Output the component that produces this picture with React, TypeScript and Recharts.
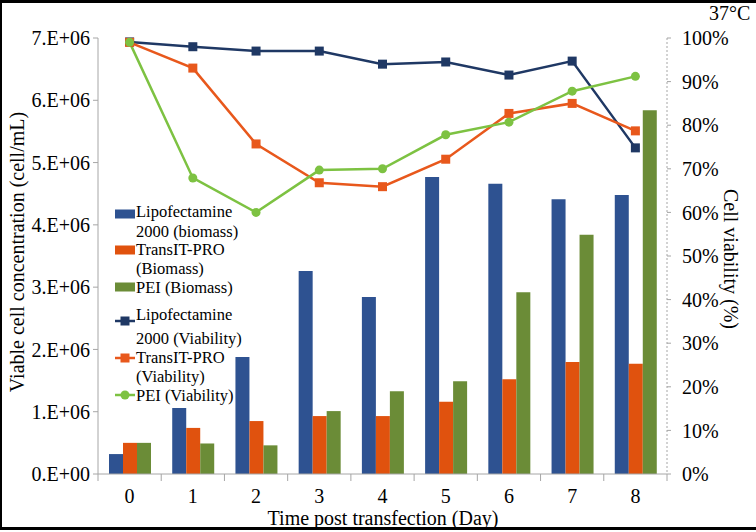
import React from "react";
import { ComposedChart, Bar, Line, XAxis, YAxis } from "recharts";

const DAYS = ["0", "1", "2", "3", "4", "5", "6", "7", "8"];

// biomass, cells/mL (left axis)
const LIPO_BIOMASS = [0.32e6, 1.06e6, 1.88e6, 3.26e6, 2.84e6, 4.77e6, 4.66e6, 4.41e6, 4.48e6];
const TRANSIT_BIOMASS = [0.5e6, 0.74e6, 0.85e6, 0.93e6, 0.93e6, 1.16e6, 1.52e6, 1.8e6, 1.77e6];
const PEI_BIOMASS = [0.5e6, 0.49e6, 0.46e6, 1.01e6, 1.33e6, 1.49e6, 2.92e6, 3.84e6, 5.84e6];

// viability, % (right axis)
const LIPO_VIABILITY = [99.1, 98.0, 97.0, 97.0, 94.0, 94.5, 91.5, 94.7, 74.8];
const TRANSIT_VIABILITY = [99.0, 93.1, 75.7, 66.8, 65.9, 72.2, 82.7, 85.0, 78.7];
const PEI_VIABILITY = [99.0, 67.9, 60.0, 69.7, 70.0, 77.8, 80.7, 87.8, 91.2];

const LEFT_TICKS = [0, 1e6, 2e6, 3e6, 4e6, 5e6, 6e6, 7e6];
const RIGHT_TICKS = [0, 10, 20, 30, 40, 50, 60, 70, 80, 90, 100];

const rows = DAYS.map((day, i) => ({
  day,
  lipoBio: LIPO_BIOMASS[i],
  transitBio: TRANSIT_BIOMASS[i],
  peiBio: PEI_BIOMASS[i],
  lipoVia: LIPO_VIABILITY[i],
  transitVia: TRANSIT_VIABILITY[i],
  peiVia: PEI_VIABILITY[i],
}));

const W = 756;
const H = 532;
const LEFT_W = 98;
const RIGHT_W = 89;
const BAND = (W - LEFT_W - RIGHT_W) / DAYS.length;

const FONT = '"Liberation Serif", "Times New Roman", serif';
const AXIS_GREY = "#a6a6a6";

const C = {
  lipoBar: "#2e5291",
  transitBar: "#e0520e",
  peiBar: "#6b8c37",
  lipoLine: "#1f3864",
  transitLine: "#e8581c",
  peiLine: "#7dc242",
};

const sciLabel = (v: number) => (v === 0 ? "0.E+00" : `${v / 1e6}.E+06`);

function DayTick(props: any) {
  const { x, y, payload, index } = props;
  const axisY = y - 8;
  const left = x - BAND / 2;
  return (
    <g>
      <line x1={left} x2={left} y1={axisY} y2={axisY + 7} stroke={AXIS_GREY} />
      {index === DAYS.length - 1 && (
        <line x1={x + BAND / 2} x2={x + BAND / 2} y1={axisY} y2={axisY + 7} stroke={AXIS_GREY} />
      )}
      <text x={x} y={y} dy={21} textAnchor="middle" fontSize={20} fontFamily={FONT} fill="#000">
        {payload.value}
      </text>
    </g>
  );
}

const squareDot = (color: string) => (p: any) => {
  if (p.cx == null || p.cy == null) return <g key={`s-${p.index}`} />;
  return <rect key={`s-${p.index}`} x={p.cx - 4.5} y={p.cy - 4.5} width={9} height={9} fill={color} />;
};

const circleDot = (color: string) => (p: any) => {
  if (p.cx == null || p.cy == null) return <g key={`c-${p.index}`} />;
  return <circle key={`c-${p.index}`} cx={p.cx} cy={p.cy} r={4.5} fill={color} />;
};

// centre of each entry's first text line, gap to its second line, centre of the swatch
const legendItems = [
  { kind: "bar", color: C.lipoBar, lines: ["Lipofectamine", "2000 (biomass)"], y: 212, gap: 20, sw: 214 },
  { kind: "bar", color: C.transitBar, lines: ["TransIT-PRO", "(Biomass)"], y: 250, gap: 19, sw: 250 },
  { kind: "bar", color: C.peiBar, lines: ["PEI (Biomass)"], y: 288, gap: 20, sw: 287 },
  { kind: "square", color: C.lipoLine, lines: ["Lipofectamine", "2000 (Viability)"], y: 315, gap: 24, sw: 321 },
  { kind: "square", color: C.transitLine, lines: ["TransIT-PRO", "(Viability)"], y: 358, gap: 19, sw: 358 },
  { kind: "circle", color: C.peiLine, lines: ["PEI (Viability)"], y: 396, gap: 20, sw: 395 },
];

function LegendBox() {
  return (
    <>
      {legendItems.map((item) => (
        <div key={item.lines.join(" ")}>
          <svg
            width={21}
            height={12}
            style={{ position: "absolute", left: 115, top: item.sw - 6, overflow: "visible" }}
          >
            {item.kind === "bar" ? (
              <rect x={0} y={1.5} width={20} height={9} fill={item.color} />
            ) : (
              <g>
                <line x1={0} x2={20} y1={6} y2={6} stroke={item.color} strokeWidth={2.5} />
                {item.kind === "square" ? (
                  <rect x={5.5} y={1.5} width={9} height={9} fill={item.color} />
                ) : (
                  <circle cx={10} cy={6} r={4.5} fill={item.color} />
                )}
              </g>
            )}
          </svg>
          {item.lines.map((ln, i) => (
            <div
              key={ln}
              style={{
                position: "absolute",
                left: 136,
                top: item.y - 8 + i * item.gap,
                lineHeight: "16px",
                fontFamily: FONT,
                fontSize: 16.5,
                color: "#000",
                whiteSpace: "nowrap",
              }}
            >
              {ln}
            </div>
          ))}
        </div>
      ))}
    </>
  );
}

export default function App() {
  return (
    <div style={{ position: "absolute", left: 0, top: 0, width: W, height: H, background: "#fff", overflow: "hidden" }}>
      <ComposedChart
        width={W}
        height={H}
        data={rows}
        margin={{ top: 38, right: 0, bottom: 0, left: 0 }}
        barGap={0}
      >
        <XAxis
          dataKey="day"
          height={58}
          tickSize={6}
          tickMargin={2}
          tickLine={false}
          axisLine={{ stroke: AXIS_GREY }}
          tick={<DayTick />}
          interval={0}
        />
        <YAxis
          yAxisId="left"
          width={LEFT_W}
          domain={[0, 7e6]}
          ticks={LEFT_TICKS}
          tickFormatter={sciLabel}
          tickSize={5}
          tickMargin={3}
          tickLine={{ stroke: AXIS_GREY }}
          axisLine={{ stroke: AXIS_GREY }}
          tick={{ fill: "#000", fontSize: 20, fontFamily: FONT }}
          interval={0}
        />
        <YAxis
          yAxisId="right"
          orientation="right"
          width={RIGHT_W}
          domain={[0, 100]}
          ticks={RIGHT_TICKS}
          tickFormatter={(v: number) => `${v}%`}
          tickSize={4}
          tickMargin={11}
          tickLine={{ stroke: AXIS_GREY }}
          axisLine={{ stroke: AXIS_GREY, strokeDasharray: "2 2" }}
          tick={{ fill: "#000", fontSize: 20, fontFamily: FONT }}
          interval={0}
        />
        <Bar yAxisId="left" dataKey="lipoBio" fill={C.lipoBar} barSize={14} isAnimationActive={false} />
        <Bar yAxisId="left" dataKey="transitBio" fill={C.transitBar} barSize={14} isAnimationActive={false} />
        <Bar yAxisId="left" dataKey="peiBio" fill={C.peiBar} barSize={14} isAnimationActive={false} />
        <Line
          yAxisId="right"
          dataKey="lipoVia"
          stroke={C.lipoLine}
          strokeWidth={2.5}
          dot={squareDot(C.lipoLine)}
          activeDot={false}
          isAnimationActive={false}
        />
        <Line
          yAxisId="right"
          dataKey="transitVia"
          stroke={C.transitLine}
          strokeWidth={2.5}
          dot={squareDot(C.transitLine)}
          activeDot={false}
          isAnimationActive={false}
        />
        <Line
          yAxisId="right"
          dataKey="peiVia"
          stroke={C.peiLine}
          strokeWidth={2.5}
          dot={circleDot(C.peiLine)}
          activeDot={false}
          isAnimationActive={false}
        />
      </ComposedChart>

      <LegendBox />

      <div style={{ position: "absolute", left: 709, top: 1, fontFamily: FONT, fontSize: 20, lineHeight: "24px" }}>
        37°C
      </div>
      <div
        style={{
          position: "absolute",
          left: 17,
          top: 252,
          transform: "translate(-50%, -50%) rotate(-90deg)",
          fontFamily: FONT,
          fontSize: 20,
          whiteSpace: "nowrap",
          lineHeight: "24px",
        }}
      >
        Viable cell concentration (cell/mL)
      </div>
      <div
        style={{
          position: "absolute",
          left: 731,
          top: 259,
          transform: "translate(-50%, -50%) rotate(90deg)",
          fontFamily: FONT,
          fontSize: 20,
          whiteSpace: "nowrap",
          lineHeight: "24px",
        }}
      >
        Cell viability (%)
      </div>
      <div
        style={{
          position: "absolute",
          left: 383,
          top: 518,
          transform: "translate(-50%, -50%)",
          fontFamily: FONT,
          fontSize: 20,
          whiteSpace: "nowrap",
          lineHeight: "24px",
        }}
      >
        Time post transfection (Day)
      </div>

      <div
        style={{
          position: "absolute",
          left: 0,
          top: 0,
          width: W,
          height: 530,
          boxSizing: "border-box",
          borderTop: "3px solid #000",
          borderLeft: "2px solid #000",
          borderBottom: "3px solid #000",
          pointerEvents: "none",
        }}
      />
    </div>
  );
}
